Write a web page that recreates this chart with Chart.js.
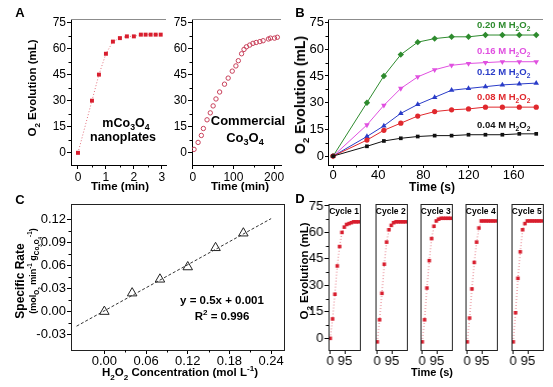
<!DOCTYPE html>
<html>
<head>
<meta charset="utf-8">
<script src="https://cdn.jsdelivr.net/npm/chart.js@4.4.1/dist/chart.umd.min.js"></script>
<style>
  body { margin: 0; background: #fff; }
  #fig { position: relative; width: 553px; height: 387px; overflow: hidden; font-family: "Liberation Sans", Arial, sans-serif; color: #000; }
  #fig canvas { position: absolute; }
  .t { position: absolute; white-space: nowrap; font-weight: bold; line-height: 1; transform: translate(-50%, -50%); }
  .r { transform: translate(-50%, -50%) rotate(-90deg); }
  .l { position: absolute; white-space: nowrap; font-weight: bold; line-height: 1; transform: translateY(-50%); }
  sub, sup { font-size: 70%; line-height: 0; }
</style>
</head>
<body>
<div id="fig">
  <!-- panel letters -->
  <div class="t" style="left:20px;top:12px;font-size:13px">A</div>
  <div class="t" style="left:300px;top:12px;font-size:13px">B</div>
  <div class="t" style="left:20px;top:199px;font-size:13px">C</div>
  <div class="t" style="left:300px;top:198px;font-size:13px">D</div>

  <!-- A -->
  <div class="t r" style="left:33px;top:88px;font-size:11.5px">O<sub>2</sub> Evolution (mL)</div>
  <div class="t" style="left:120px;top:187px;font-size:11.5px">Time (min)</div>
  <div class="t" style="left:240px;top:187px;font-size:11.5px">Time (min)</div>
  <div class="t" style="left:126px;top:123px;font-size:12.5px">mCo<sub>3</sub>O<sub>4</sub></div>
  <div class="t" style="left:123px;top:137px;font-size:12.5px">nanoplates</div>
  <div class="t" style="left:248px;top:120px;font-size:13px">Commercial</div>
  <div class="t" style="left:245px;top:137px;font-size:13px">Co<sub>3</sub>O<sub>4</sub></div>

  <!-- B -->
  <div class="t r" style="left:300px;top:95px;font-size:14px">O<sub>2</sub> Evolution (mL)</div>
  <div class="t" style="left:432px;top:187px;font-size:12px">Time (s)</div>
  <div class="l" style="left:477px;top:25px;font-size:9.5px;color:#2e8b2e">0.20 M H<sub>2</sub>O<sub>2</sub></div>
  <div class="l" style="left:477px;top:51px;font-size:9.5px;color:#e050e0">0.16 M H<sub>2</sub>O<sub>2</sub></div>
  <div class="l" style="left:477px;top:72px;font-size:9.5px;color:#2a3cc8">0.12 M H<sub>2</sub>O<sub>2</sub></div>
  <div class="l" style="left:477px;top:97px;font-size:9.5px;color:#e0282d">0.08 M H<sub>2</sub>O<sub>2</sub></div>
  <div class="l" style="left:477px;top:125px;font-size:9.5px;color:#111">0.04 M H<sub>2</sub>O<sub>2</sub></div>

  <!-- C -->
  <div class="t r" style="left:20px;top:281px;font-size:12px">Specific Rate</div>
  <div class="t r" style="left:35px;top:271px;font-size:9px">(mol<sub>O<sub>2</sub></sub> min<sup>-1</sup> g<sub>Co<sub>3</sub>O<sub>4</sub></sub><sup>-1</sup>)</div>
  <div class="t" style="left:180px;top:373px;font-size:11.5px">H<sub>2</sub>O<sub>2</sub> Concentration (mol L<sup>-1</sup>)</div>
  <div class="t" style="left:222px;top:301px;font-size:11.5px">y = 0.5x + 0.001</div>
  <div class="t" style="left:222px;top:317px;font-size:11.5px">R<sup>2</sup> = 0.996</div>

  <!-- D -->
  <div class="t r" style="left:305px;top:271px;font-size:11.5px">O<sub>2</sub> Evolution (mL)</div>
  <div class="t" style="left:432px;top:372px;font-size:11px">Time (s)</div>
</div>

<script>
// ---- data ----
// A: mCo3O4 nanoplates
const a1Time = [0, 0.5, 0.75, 1, 1.25, 1.5, 1.75, 2, 2.25, 2.42, 2.6, 2.78, 2.96];
const a1O2 = [0, 30, 45, 57, 64, 66, 67, 67, 68, 68, 68, 68, 68];
// A: commercial Co3O4
const a2Time = [3, 13, 21, 26, 35, 43, 50, 57, 66, 78, 87, 97, 106, 112, 120, 126, 132, 140, 148, 156, 165, 173, 186, 191, 201, 208];
const a2O2 = [2, 6, 10, 14, 19, 23, 27, 31, 35, 39.5, 43, 47, 50, 53, 57, 59.5, 61, 62, 63, 63.5, 64, 64.5, 65.5, 66, 66, 66.5];
const aTicksY = [0, 15, 30, 45, 60, 75];
const a1TicksX = [0, 1, 2, 3];
const a2TicksX = [0, 100, 200];

// B: different H2O2 concentrations
const bTime = [0, 30, 45, 60, 75, 90, 105, 120, 135, 150, 165, 180];
const b020 = [0, 30, 45, 57, 64, 66, 67, 67, 68, 68, 68, 68];
const b016 = [0, 17.5, 28.5, 38, 44.5, 48.5, 51, 52, 52.5, 53, 53, 53];
const b012 = [0, 11, 17, 24, 29, 33, 37, 38, 39, 40, 40.5, 41];
const b008 = [0, 9, 14.5, 18.5, 22.5, 25, 26, 26.5, 27.5, 27.5, 27.5, 27.5];
const b004 = [0, 5.5, 8.5, 10, 11, 11.5, 11.5, 12, 12, 12, 12.5, 12.5];
const bTicksX = [0, 40, 80, 120, 160];
const bTicksY = [0, 15, 30, 45, 60, 75];

// C: specific rate vs concentration
const cConc = [0, 0.04, 0.08, 0.12, 0.16, 0.20];
const cRate = [0, 0.024, 0.042, 0.058, 0.083, 0.102];
const cFitConc = [-0.04, 0.24];
const cFitRate = [-0.019, 0.121];
const cTicksX = [0, 0.06, 0.12, 0.18, 0.24];
const cTicksY = [-0.03, 0, 0.03, 0.06, 0.09, 0.12];

// D: recycling
const dTime = [0, 15, 30, 45, 60, 75, 90, 105, 120, 135, 150, 165, 180];
const cycle1 = [0, 11, 25, 41, 52, 60, 63, 64.5, 65, 65.5, 66, 66, 66];
const cycle2 = [-2, 10.5, 25.5, 42, 54.5, 61.5, 64, 65.5, 66, 66, 66, 66, 66];
const cycle3 = [-2, 10.5, 28.5, 44, 56.5, 63.5, 66.5, 67.5, 68, 68, 68, 68, 68];
const cycle4 = [-2, 11.5, 28, 43, 54.5, 62.5, 66.5, 66.5, 66.5, 66.5, 66.5, 66.5, 66.5];
const cycle5 = [-2, 14.5, 34, 49, 61.5, 65, 66.5, 66.5, 66.5, 66.5, 66.5, 66.5, 66.5];
const cycleNames = ["Cycle 1", "Cycle 2", "Cycle 3", "Cycle 4", "Cycle 5"];
const dTicksX = [0, 95];
const dTicksY = [0, 15, 30, 45, 60, 75];

// ---- helpers ----
const FONT = '"Liberation Sans", Arial, sans-serif';
const fig = document.getElementById('fig');

function pts(xs, ys) {
  return xs.map((x, i) => ({x: x, y: ys[i]}));
}
function mids(t) {
  var m = [];
  for (var i = 0; i < t.length - 1; i++) m.push((t[i] + t[i + 1]) / 2);
  return m;
}

function scale(min, max, ticks, o) {
  return {
    type: 'linear', min: min, max: max,
    afterBuildTicks: s => { s.ticks = ticks.map(v => ({value: v})); },
    afterFit: s => {
      if (o.horiz) s.height = o.size; else s.width = o.size;
      s.paddingLeft = s.paddingRight = s.paddingTop = s.paddingBottom = 0;
    },
    grid: {drawOnChartArea: false, drawTicks: o.noTicks ? false : true, tickLength: o.tick || 4, color: '#000', lineWidth: 1},
    border: {display: true, color: '#000', width: 1},
    ticks: {
      display: o.labels !== false, color: '#000', padding: o.pad || 0,
      font: {family: FONT, size: o.font || 13},
      maxRotation: 0, autoSkip: false,
      callback: v => o.fmt ? o.fmt(v) : String(v)
    }
  };
}

const extras = {
  id: 'extras',
  afterDraw(chart, args, opts) {
    const ctx = chart.ctx, a = chart.chartArea;
    ctx.save();
    ctx.lineWidth = 1;
    if (opts.frame === 'top') {
      ctx.strokeStyle = '#8c8c8c';
      ctx.beginPath();
      ctx.moveTo(a.left, Math.round(a.top) + 0.5);
      ctx.lineTo(a.right, Math.round(a.top) + 0.5);
      ctx.stroke();
    } else if (opts.frame === 'box') {
      ctx.strokeStyle = '#222';
      ctx.strokeRect(Math.round(a.left) + 0.5, Math.round(a.top) + 0.5, Math.round(a.width), Math.round(a.height));
    }
    ctx.strokeStyle = '#000';
    ctx.beginPath();
    (opts.minX || []).forEach(v => {
      const px = Math.round(chart.scales.x.getPixelForValue(v)) + 0.5;
      ctx.moveTo(px, a.bottom); ctx.lineTo(px, a.bottom + 2.5);
    });
    (opts.minY || []).forEach(v => {
      const py = Math.round(chart.scales.y.getPixelForValue(v)) + 0.5;
      ctx.moveTo(a.left, py); ctx.lineTo(a.left - 2.5, py);
    });
    ctx.stroke();
    ctx.restore();
  }
};

function makeChart(area, datasets, xScale, yScale, extraOpts) {
  const pad = 14;
  const w = area.r - area.l + area.yW + 2 * pad;
  const h = area.b - area.t + area.xH + 2 * pad;
  const cv = document.createElement('canvas');
  cv.width = w; cv.height = h;
  cv.style.left = (area.l - area.yW - pad) + 'px';
  cv.style.top = (area.t - pad) + 'px';
  cv.style.width = w + 'px';
  cv.style.height = h + 'px';
  fig.insertBefore(cv, fig.firstChild);
  return new Chart(cv, {
    type: 'line',
    data: {datasets: datasets},
    options: {
      responsive: false, animation: false, devicePixelRatio: 1,
      layout: {padding: pad},
      plugins: {legend: {display: false}, tooltip: {enabled: false}, extras: extraOpts},
      scales: {x: xScale, y: yScale}
    },
    plugins: [extras]
  });
}

// ---- A: nanoplates ----
makeChart({l: 71, t: 19, r: 166, b: 165, yW: 30, xH: 20},
  [{data: pts(a1Time, a1O2), borderColor: '#e2707c', borderWidth: 1, borderDash: [1, 2],
    pointStyle: 'rect', pointRadius: 2.8, pointBackgroundColor: '#d81e2e', pointBorderColor: '#d81e2e', pointBorderWidth: 0}],
  scale(-0.25, 3.15, a1TicksX, {horiz: true, size: 20, font: 12, pad: 1}),
  scale(-7, 77, aTicksY, {size: 30, font: 12, pad: 1}),
  {frame: 'top', minX: mids(a1TicksX), minY: mids(aTicksY)});

// ---- A: commercial ----
makeChart({l: 191.5, t: 19, r: 281, b: 165, yW: 30, xH: 20},
  [{data: pts(a2Time, a2O2), showLine: false,
    pointStyle: 'circle', pointRadius: 2.2, pointBackgroundColor: 'rgba(0,0,0,0)', pointBorderColor: '#c8405a', pointBorderWidth: 1}],
  scale(-2, 217, a2TicksX, {horiz: true, size: 20, font: 12, pad: 1}),
  scale(-7, 77, aTicksY, {size: 30, font: 12, pad: 1}),
  {frame: 'top', minX: mids(a2TicksX), minY: mids(aTicksY)});

// ---- B ----
function bSet(ys, color, style, radius, rot) {
  return {data: pts(bTime, ys), borderColor: color, borderWidth: 1, pointStyle: style, pointRotation: rot || 0,
    pointRadius: radius, pointBackgroundColor: color, pointBorderColor: color, pointBorderWidth: 0};
}
makeChart({l: 328, t: 19, r: 543, b: 165, yW: 30, xH: 20},
  [bSet(b004, '#111111', 'rect', 2.6),
   bSet(b008, '#e0282d', 'circle', 2.6),
   bSet(b012, '#2a3cc8', 'triangle', 3.2),
   bSet(b016, '#e050e0', 'triangle', 3.2, 180),
   bSet(b020, '#2e8b2e', 'rectRot', 3.2)],
  scale(-4.5, 186, bTicksX, {horiz: true, size: 20, tick: 3}),
  scale(-5, 77, bTicksY, {size: 30, tick: 3, pad: 1}),
  {frame: 'top', minX: mids(bTicksX), minY: mids(bTicksY)});

// ---- C ----
makeChart({l: 71, t: 204, r: 284, b: 350, yW: 40, xH: 20},
  [{data: pts(cFitConc, cFitRate), borderColor: '#333', borderWidth: 1, borderDash: [3, 2], pointRadius: 0},
   {data: pts(cConc, cRate), showLine: false, pointStyle: 'triangle', pointRadius: 5.5,
    pointBackgroundColor: '#fff', pointBorderColor: '#222', pointBorderWidth: 1}],
  scale(-0.048, 0.2585, cTicksX, {horiz: true, size: 20, fmt: v => v.toFixed(2)}),
  scale(-0.05, 0.14, cTicksY, {size: 40, pad: 1, fmt: v => v.toFixed(2)}),
  {frame: 'box', minX: mids(cTicksX), minY: mids(cTicksY)});

// ---- D ----
const cycles = [cycle1, cycle2, cycle3, cycle4, cycle5];
const boxLeft = [328.3, 375, 420, 465, 511];
cycles.forEach((ys, i) => {
  const l = boxLeft[i], r = l + 31.5;
  makeChart({l: l, t: 204, r: r, b: 350, yW: 30, xH: 20},
    [{data: pts(dTime, ys), borderColor: '#e2707c', borderWidth: 1, borderDash: [1, 2],
      pointStyle: 'rect', pointRadius: 2.5, pointBackgroundColor: '#d81e2e', pointBorderColor: '#d81e2e', pointBorderWidth: 0}],
    scale(-11, 190, dTicksX, {horiz: true, size: 20}),
    scale(-6.6, 76.1, dTicksY, {size: 30, pad: 1, labels: i === 0, noTicks: i !== 0}),
    {frame: 'box', minY: i === 0 ? mids(dTicksY) : []});
  const lab = document.createElement('div');
  lab.className = 't';
  lab.style.left = (l + 15.75) + 'px';
  lab.style.top = '211px';
  lab.style.fontSize = '8.5px';
  lab.textContent = cycleNames[i];
  fig.appendChild(lab);
});
</script>
</body>
</html>
